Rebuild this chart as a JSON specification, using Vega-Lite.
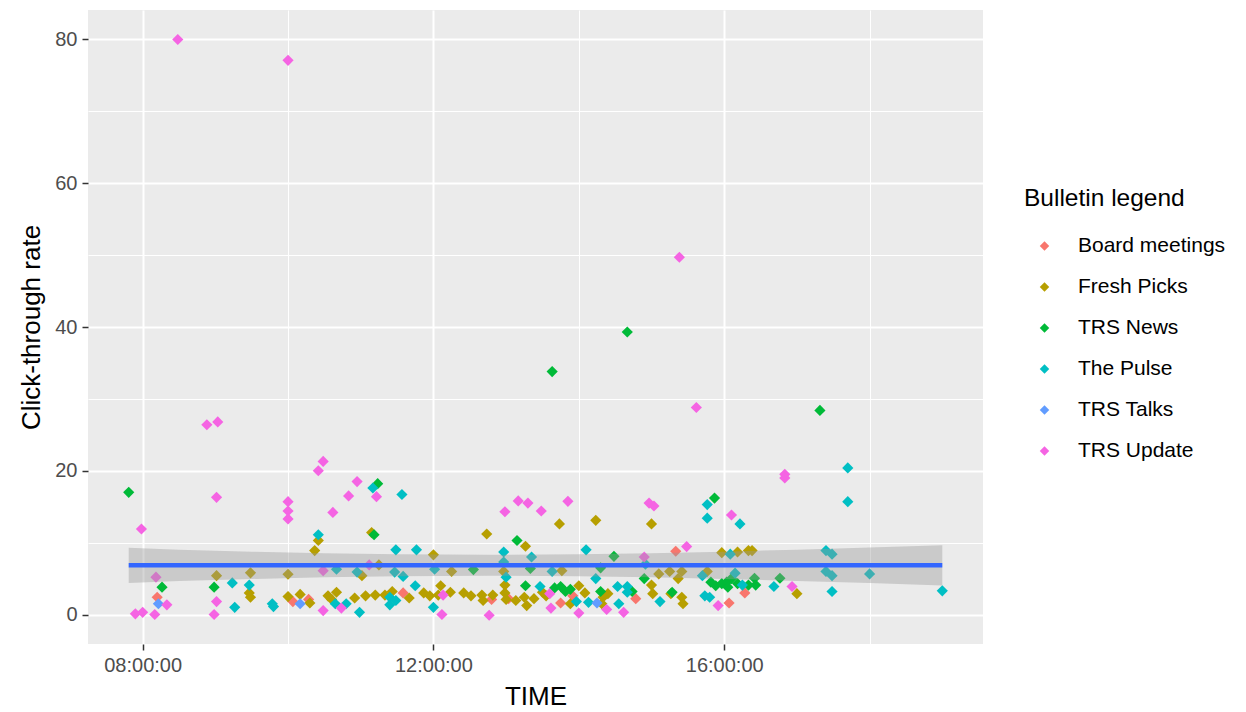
{
  "$schema": "https://vega.github.io/schema/vega-lite/v6.json",
  "width": 895,
  "height": 634,
  "autosize": {"type": "none"},
  "padding": {"left": 88, "top": 10, "right": 263, "bottom": 68},
  "background": "white",
  "config": {
    "view": {"fill": "#EBEBEB", "stroke": null},
    "font": "Liberation Sans",
    "axis": {
      "domain": false,
      "tickColor": "#333333",
      "tickSize": 6,
      "tickWidth": 1.5,
      "labelColor": "#4D4D4D",
      "labelFont": "Liberation Sans",
      "labelFontSize": 20,
      "titleFont": "Liberation Sans",
      "titleFontSize": 26,
      "titleFontWeight": "normal",
      "titleColor": "#000000",
      "gridColor": "#FFFFFF",
      "gridWidth": 2,
      "gridOpacity": 1
    },
    "legend": {
      "titleFont": "Liberation Sans",
      "titleFontSize": 24.5,
      "titleFontWeight": "normal",
      "titleColor": "#000000",
      "labelFont": "Liberation Sans",
      "labelFontSize": 21,
      "labelColor": "#000000"
    }
  },
  "datasets": {
    "pts": [
      {"TIME": "08:12:00", "CTR": 2.4, "Bulletin": "Board meetings"},
      {"TIME": "10:04:00", "CTR": 1.8, "Bulletin": "Board meetings"},
      {"TIME": "10:17:00", "CTR": 2.1, "Bulletin": "Board meetings"},
      {"TIME": "11:35:00", "CTR": 3.0, "Bulletin": "Board meetings"},
      {"TIME": "12:48:00", "CTR": 2.1, "Bulletin": "Board meetings"},
      {"TIME": "13:02:00", "CTR": 2.2, "Bulletin": "Board meetings"},
      {"TIME": "13:45:00", "CTR": 1.6, "Bulletin": "Board meetings"},
      {"TIME": "13:55:00", "CTR": 2.6, "Bulletin": "Board meetings"},
      {"TIME": "14:47:00", "CTR": 2.2, "Bulletin": "Board meetings"},
      {"TIME": "15:20:00", "CTR": 8.8, "Bulletin": "Board meetings"},
      {"TIME": "16:04:00", "CTR": 1.6, "Bulletin": "Board meetings"},
      {"TIME": "16:17:00", "CTR": 3.0, "Bulletin": "Board meetings"},

      {"TIME": "09:01:00", "CTR": 5.4, "Bulletin": "Fresh Picks"},
      {"TIME": "09:29:00", "CTR": 5.8, "Bulletin": "Fresh Picks"},
      {"TIME": "09:28:00", "CTR": 3.0, "Bulletin": "Fresh Picks"},
      {"TIME": "09:29:00", "CTR": 2.4, "Bulletin": "Fresh Picks"},
      {"TIME": "10:00:00", "CTR": 5.6, "Bulletin": "Fresh Picks"},
      {"TIME": "10:00:00", "CTR": 2.5, "Bulletin": "Fresh Picks"},
      {"TIME": "10:10:00", "CTR": 2.8, "Bulletin": "Fresh Picks"},
      {"TIME": "10:18:00", "CTR": 1.6, "Bulletin": "Fresh Picks"},
      {"TIME": "10:25:00", "CTR": 10.3, "Bulletin": "Fresh Picks"},
      {"TIME": "10:22:00", "CTR": 8.9, "Bulletin": "Fresh Picks"},
      {"TIME": "11:09:00", "CTR": 11.4, "Bulletin": "Fresh Picks"},
      {"TIME": "11:15:00", "CTR": 6.9, "Bulletin": "Fresh Picks"},
      {"TIME": "11:01:00", "CTR": 5.4, "Bulletin": "Fresh Picks"},
      {"TIME": "12:00:00", "CTR": 8.3, "Bulletin": "Fresh Picks"},
      {"TIME": "12:15:00", "CTR": 6.0, "Bulletin": "Fresh Picks"},
      {"TIME": "12:44:00", "CTR": 11.2, "Bulletin": "Fresh Picks"},
      {"TIME": "13:16:00", "CTR": 9.5, "Bulletin": "Fresh Picks"},
      {"TIME": "12:59:00", "CTR": 4.1, "Bulletin": "Fresh Picks"},
      {"TIME": "12:58:00", "CTR": 6.0, "Bulletin": "Fresh Picks"},
      {"TIME": "10:33:00", "CTR": 2.6, "Bulletin": "Fresh Picks"},
      {"TIME": "10:36:00", "CTR": 2.1, "Bulletin": "Fresh Picks"},
      {"TIME": "10:40:00", "CTR": 3.1, "Bulletin": "Fresh Picks"},
      {"TIME": "10:55:00", "CTR": 2.3, "Bulletin": "Fresh Picks"},
      {"TIME": "11:04:00", "CTR": 2.6, "Bulletin": "Fresh Picks"},
      {"TIME": "11:12:00", "CTR": 2.7, "Bulletin": "Fresh Picks"},
      {"TIME": "11:20:00", "CTR": 2.7, "Bulletin": "Fresh Picks"},
      {"TIME": "11:26:00", "CTR": 3.2, "Bulletin": "Fresh Picks"},
      {"TIME": "11:40:00", "CTR": 2.3, "Bulletin": "Fresh Picks"},
      {"TIME": "11:52:00", "CTR": 3.0, "Bulletin": "Fresh Picks"},
      {"TIME": "11:57:00", "CTR": 2.6, "Bulletin": "Fresh Picks"},
      {"TIME": "12:04:00", "CTR": 2.7, "Bulletin": "Fresh Picks"},
      {"TIME": "12:06:00", "CTR": 4.0, "Bulletin": "Fresh Picks"},
      {"TIME": "12:14:00", "CTR": 3.1, "Bulletin": "Fresh Picks"},
      {"TIME": "12:25:00", "CTR": 3.0, "Bulletin": "Fresh Picks"},
      {"TIME": "12:31:00", "CTR": 2.6, "Bulletin": "Fresh Picks"},
      {"TIME": "12:40:00", "CTR": 2.7, "Bulletin": "Fresh Picks"},
      {"TIME": "12:41:00", "CTR": 1.95, "Bulletin": "Fresh Picks"},
      {"TIME": "12:49:00", "CTR": 2.7, "Bulletin": "Fresh Picks"},
      {"TIME": "12:59:00", "CTR": 3.0, "Bulletin": "Fresh Picks"},
      {"TIME": "13:00:00", "CTR": 2.1, "Bulletin": "Fresh Picks"},
      {"TIME": "13:08:00", "CTR": 1.95, "Bulletin": "Fresh Picks"},
      {"TIME": "13:15:00", "CTR": 2.4, "Bulletin": "Fresh Picks"},
      {"TIME": "13:17:00", "CTR": 1.25, "Bulletin": "Fresh Picks"},
      {"TIME": "13:23:00", "CTR": 2.2, "Bulletin": "Fresh Picks"},
      {"TIME": "13:30:00", "CTR": 3.1, "Bulletin": "Fresh Picks"},
      {"TIME": "13:33:00", "CTR": 2.6, "Bulletin": "Fresh Picks"},
      {"TIME": "13:44:00", "CTR": 12.6, "Bulletin": "Fresh Picks"},
      {"TIME": "13:46:00", "CTR": 6.1, "Bulletin": "Fresh Picks"},
      {"TIME": "13:53:00", "CTR": 1.5, "Bulletin": "Fresh Picks"},
      {"TIME": "14:00:00", "CTR": 4.0, "Bulletin": "Fresh Picks"},
      {"TIME": "14:05:00", "CTR": 3.0, "Bulletin": "Fresh Picks"},
      {"TIME": "14:14:00", "CTR": 13.1, "Bulletin": "Fresh Picks"},
      {"TIME": "14:24:00", "CTR": 2.9, "Bulletin": "Fresh Picks"},
      {"TIME": "14:20:00", "CTR": 2.4, "Bulletin": "Fresh Picks"},
      {"TIME": "14:19:00", "CTR": 1.5, "Bulletin": "Fresh Picks"},
      {"TIME": "15:00:00", "CTR": 12.6, "Bulletin": "Fresh Picks"},
      {"TIME": "15:00:00", "CTR": 4.1, "Bulletin": "Fresh Picks"},
      {"TIME": "15:01:00", "CTR": 2.9, "Bulletin": "Fresh Picks"},
      {"TIME": "15:06:00", "CTR": 5.65, "Bulletin": "Fresh Picks"},
      {"TIME": "15:15:00", "CTR": 6.0, "Bulletin": "Fresh Picks"},
      {"TIME": "15:16:00", "CTR": 2.9, "Bulletin": "Fresh Picks"},
      {"TIME": "15:22:00", "CTR": 5.0, "Bulletin": "Fresh Picks"},
      {"TIME": "15:25:00", "CTR": 6.0, "Bulletin": "Fresh Picks"},
      {"TIME": "15:25:00", "CTR": 2.4, "Bulletin": "Fresh Picks"},
      {"TIME": "15:26:00", "CTR": 1.5, "Bulletin": "Fresh Picks"},
      {"TIME": "15:46:00", "CTR": 6.0, "Bulletin": "Fresh Picks"},
      {"TIME": "15:58:00", "CTR": 8.6, "Bulletin": "Fresh Picks"},
      {"TIME": "16:11:00", "CTR": 8.7, "Bulletin": "Fresh Picks"},
      {"TIME": "16:20:00", "CTR": 8.9, "Bulletin": "Fresh Picks"},
      {"TIME": "16:23:00", "CTR": 8.9, "Bulletin": "Fresh Picks"},
      {"TIME": "17:00:00", "CTR": 2.9, "Bulletin": "Fresh Picks"},

      {"TIME": "07:48:30", "CTR": 17.0, "Bulletin": "TRS News"},
      {"TIME": "08:16:00", "CTR": 3.8, "Bulletin": "TRS News"},
      {"TIME": "08:59:00", "CTR": 3.8, "Bulletin": "TRS News"},
      {"TIME": "11:14:00", "CTR": 18.2, "Bulletin": "TRS News"},
      {"TIME": "11:11:00", "CTR": 11.1, "Bulletin": "TRS News"},
      {"TIME": "12:33:00", "CTR": 6.25, "Bulletin": "TRS News"},
      {"TIME": "13:09:00", "CTR": 10.3, "Bulletin": "TRS News"},
      {"TIME": "13:16:00", "CTR": 4.0, "Bulletin": "TRS News"},
      {"TIME": "13:38:00", "CTR": 33.8, "Bulletin": "TRS News"},
      {"TIME": "13:20:00", "CTR": 6.4, "Bulletin": "TRS News"},
      {"TIME": "13:40:00", "CTR": 3.7, "Bulletin": "TRS News"},
      {"TIME": "13:45:00", "CTR": 3.9, "Bulletin": "TRS News"},
      {"TIME": "13:49:00", "CTR": 3.2, "Bulletin": "TRS News"},
      {"TIME": "13:53:00", "CTR": 3.5, "Bulletin": "TRS News"},
      {"TIME": "14:18:00", "CTR": 6.5, "Bulletin": "TRS News"},
      {"TIME": "14:18:00", "CTR": 3.2, "Bulletin": "TRS News"},
      {"TIME": "14:29:00", "CTR": 8.1, "Bulletin": "TRS News"},
      {"TIME": "14:40:00", "CTR": 39.3, "Bulletin": "TRS News"},
      {"TIME": "14:44:00", "CTR": 3.2, "Bulletin": "TRS News"},
      {"TIME": "14:54:00", "CTR": 5.0, "Bulletin": "TRS News"},
      {"TIME": "15:17:00", "CTR": 3.1, "Bulletin": "TRS News"},
      {"TIME": "15:52:00", "CTR": 16.2, "Bulletin": "TRS News"},
      {"TIME": "15:49:00", "CTR": 4.5, "Bulletin": "TRS News"},
      {"TIME": "15:53:00", "CTR": 4.0, "Bulletin": "TRS News"},
      {"TIME": "15:58:00", "CTR": 4.3, "Bulletin": "TRS News"},
      {"TIME": "16:02:00", "CTR": 4.5, "Bulletin": "TRS News"},
      {"TIME": "16:06:00", "CTR": 5.0, "Bulletin": "TRS News"},
      {"TIME": "16:03:00", "CTR": 3.8, "Bulletin": "TRS News"},
      {"TIME": "16:11:00", "CTR": 4.3, "Bulletin": "TRS News"},
      {"TIME": "16:20:00", "CTR": 4.1, "Bulletin": "TRS News"},
      {"TIME": "16:26:00", "CTR": 4.1, "Bulletin": "TRS News"},
      {"TIME": "16:25:00", "CTR": 5.05, "Bulletin": "TRS News"},
      {"TIME": "16:46:00", "CTR": 5.05, "Bulletin": "TRS News"},
      {"TIME": "17:19:00", "CTR": 28.4, "Bulletin": "TRS News"},

      {"TIME": "09:14:00", "CTR": 4.4, "Bulletin": "The Pulse"},
      {"TIME": "09:16:00", "CTR": 1.0, "Bulletin": "The Pulse"},
      {"TIME": "09:28:00", "CTR": 4.1, "Bulletin": "The Pulse"},
      {"TIME": "09:47:00", "CTR": 1.5, "Bulletin": "The Pulse"},
      {"TIME": "09:48:00", "CTR": 1.1, "Bulletin": "The Pulse"},
      {"TIME": "10:25:00", "CTR": 11.1, "Bulletin": "The Pulse"},
      {"TIME": "10:40:00", "CTR": 6.3, "Bulletin": "The Pulse"},
      {"TIME": "10:39:00", "CTR": 1.5, "Bulletin": "The Pulse"},
      {"TIME": "10:48:00", "CTR": 1.5, "Bulletin": "The Pulse"},
      {"TIME": "10:59:00", "CTR": 0.3, "Bulletin": "The Pulse"},
      {"TIME": "10:57:00", "CTR": 5.9, "Bulletin": "The Pulse"},
      {"TIME": "11:10:00", "CTR": 17.6, "Bulletin": "The Pulse"},
      {"TIME": "11:34:00", "CTR": 16.7, "Bulletin": "The Pulse"},
      {"TIME": "11:29:00", "CTR": 9.0, "Bulletin": "The Pulse"},
      {"TIME": "11:46:00", "CTR": 9.0, "Bulletin": "The Pulse"},
      {"TIME": "11:28:00", "CTR": 5.9, "Bulletin": "The Pulse"},
      {"TIME": "11:35:00", "CTR": 5.3, "Bulletin": "The Pulse"},
      {"TIME": "11:45:00", "CTR": 4.0, "Bulletin": "The Pulse"},
      {"TIME": "11:24:00", "CTR": 2.4, "Bulletin": "The Pulse"},
      {"TIME": "11:24:00", "CTR": 1.35, "Bulletin": "The Pulse"},
      {"TIME": "11:29:00", "CTR": 1.95, "Bulletin": "The Pulse"},
      {"TIME": "12:01:00", "CTR": 6.3, "Bulletin": "The Pulse"},
      {"TIME": "12:00:00", "CTR": 1.0, "Bulletin": "The Pulse"},
      {"TIME": "12:58:00", "CTR": 8.7, "Bulletin": "The Pulse"},
      {"TIME": "12:58:00", "CTR": 7.3, "Bulletin": "The Pulse"},
      {"TIME": "13:00:00", "CTR": 5.2, "Bulletin": "The Pulse"},
      {"TIME": "13:21:00", "CTR": 8.0, "Bulletin": "The Pulse"},
      {"TIME": "13:38:00", "CTR": 6.0, "Bulletin": "The Pulse"},
      {"TIME": "13:28:00", "CTR": 3.9, "Bulletin": "The Pulse"},
      {"TIME": "14:06:00", "CTR": 9.0, "Bulletin": "The Pulse"},
      {"TIME": "14:14:00", "CTR": 5.0, "Bulletin": "The Pulse"},
      {"TIME": "13:58:00", "CTR": 1.8, "Bulletin": "The Pulse"},
      {"TIME": "14:08:00", "CTR": 1.7, "Bulletin": "The Pulse"},
      {"TIME": "14:32:00", "CTR": 3.9, "Bulletin": "The Pulse"},
      {"TIME": "14:40:00", "CTR": 3.9, "Bulletin": "The Pulse"},
      {"TIME": "14:40:00", "CTR": 3.1, "Bulletin": "The Pulse"},
      {"TIME": "14:33:00", "CTR": 1.5, "Bulletin": "The Pulse"},
      {"TIME": "14:55:00", "CTR": 7.0, "Bulletin": "The Pulse"},
      {"TIME": "15:07:00", "CTR": 1.8, "Bulletin": "The Pulse"},
      {"TIME": "15:46:00", "CTR": 15.3, "Bulletin": "The Pulse"},
      {"TIME": "15:46:00", "CTR": 13.4, "Bulletin": "The Pulse"},
      {"TIME": "15:42:00", "CTR": 5.4, "Bulletin": "The Pulse"},
      {"TIME": "15:44:00", "CTR": 2.6, "Bulletin": "The Pulse"},
      {"TIME": "15:48:00", "CTR": 2.4, "Bulletin": "The Pulse"},
      {"TIME": "16:05:00", "CTR": 8.4, "Bulletin": "The Pulse"},
      {"TIME": "16:09:00", "CTR": 5.75, "Bulletin": "The Pulse"},
      {"TIME": "16:13:00", "CTR": 12.6, "Bulletin": "The Pulse"},
      {"TIME": "16:15:00", "CTR": 4.1, "Bulletin": "The Pulse"},
      {"TIME": "16:41:00", "CTR": 3.9, "Bulletin": "The Pulse"},
      {"TIME": "17:24:00", "CTR": 8.9, "Bulletin": "The Pulse"},
      {"TIME": "17:29:00", "CTR": 8.4, "Bulletin": "The Pulse"},
      {"TIME": "17:24:00", "CTR": 6.0, "Bulletin": "The Pulse"},
      {"TIME": "17:29:00", "CTR": 5.4, "Bulletin": "The Pulse"},
      {"TIME": "17:29:00", "CTR": 3.2, "Bulletin": "The Pulse"},
      {"TIME": "17:42:00", "CTR": 20.4, "Bulletin": "The Pulse"},
      {"TIME": "17:42:00", "CTR": 15.7, "Bulletin": "The Pulse"},
      {"TIME": "18:00:00", "CTR": 5.65, "Bulletin": "The Pulse"},
      {"TIME": "19:00:00", "CTR": 3.3, "Bulletin": "The Pulse"},

      {"TIME": "08:13:00", "CTR": 1.5, "Bulletin": "TRS Talks"},
      {"TIME": "10:10:00", "CTR": 1.5, "Bulletin": "TRS Talks"},
      {"TIME": "14:15:00", "CTR": 1.6, "Bulletin": "TRS Talks"},

      {"TIME": "08:29:00", "CTR": 80.0, "Bulletin": "TRS Update"},
      {"TIME": "10:00:00", "CTR": 77.1, "Bulletin": "TRS Update"},
      {"TIME": "08:53:00", "CTR": 26.4, "Bulletin": "TRS Update"},
      {"TIME": "09:02:00", "CTR": 26.8, "Bulletin": "TRS Update"},
      {"TIME": "10:29:00", "CTR": 21.3, "Bulletin": "TRS Update"},
      {"TIME": "10:25:00", "CTR": 20.0, "Bulletin": "TRS Update"},
      {"TIME": "09:01:00", "CTR": 16.3, "Bulletin": "TRS Update"},
      {"TIME": "10:00:00", "CTR": 15.7, "Bulletin": "TRS Update"},
      {"TIME": "10:00:00", "CTR": 14.4, "Bulletin": "TRS Update"},
      {"TIME": "10:00:00", "CTR": 13.3, "Bulletin": "TRS Update"},
      {"TIME": "07:59:00", "CTR": 11.9, "Bulletin": "TRS Update"},
      {"TIME": "08:11:00", "CTR": 5.2, "Bulletin": "TRS Update"},
      {"TIME": "08:20:00", "CTR": 1.35, "Bulletin": "TRS Update"},
      {"TIME": "07:54:00", "CTR": 0.1, "Bulletin": "TRS Update"},
      {"TIME": "08:00:00", "CTR": 0.3, "Bulletin": "TRS Update"},
      {"TIME": "08:10:00", "CTR": 0.0, "Bulletin": "TRS Update"},
      {"TIME": "09:01:00", "CTR": 1.8, "Bulletin": "TRS Update"},
      {"TIME": "08:59:00", "CTR": 0.0, "Bulletin": "TRS Update"},
      {"TIME": "10:57:00", "CTR": 18.5, "Bulletin": "TRS Update"},
      {"TIME": "10:50:00", "CTR": 16.5, "Bulletin": "TRS Update"},
      {"TIME": "11:13:00", "CTR": 16.4, "Bulletin": "TRS Update"},
      {"TIME": "10:37:00", "CTR": 14.2, "Bulletin": "TRS Update"},
      {"TIME": "10:29:00", "CTR": 6.1, "Bulletin": "TRS Update"},
      {"TIME": "11:07:00", "CTR": 6.9, "Bulletin": "TRS Update"},
      {"TIME": "10:29:00", "CTR": 0.55, "Bulletin": "TRS Update"},
      {"TIME": "10:44:00", "CTR": 0.9, "Bulletin": "TRS Update"},
      {"TIME": "12:07:00", "CTR": 0.0, "Bulletin": "TRS Update"},
      {"TIME": "12:46:00", "CTR": -0.1, "Bulletin": "TRS Update"},
      {"TIME": "12:59:00", "CTR": 14.3, "Bulletin": "TRS Update"},
      {"TIME": "13:10:00", "CTR": 15.8, "Bulletin": "TRS Update"},
      {"TIME": "13:18:00", "CTR": 15.5, "Bulletin": "TRS Update"},
      {"TIME": "13:29:00", "CTR": 14.4, "Bulletin": "TRS Update"},
      {"TIME": "13:51:00", "CTR": 15.75, "Bulletin": "TRS Update"},
      {"TIME": "14:58:00", "CTR": 15.5, "Bulletin": "TRS Update"},
      {"TIME": "15:02:00", "CTR": 15.1, "Bulletin": "TRS Update"},
      {"TIME": "16:06:00", "CTR": 13.85, "Bulletin": "TRS Update"},
      {"TIME": "14:54:00", "CTR": 8.0, "Bulletin": "TRS Update"},
      {"TIME": "15:29:00", "CTR": 9.45, "Bulletin": "TRS Update"},
      {"TIME": "15:23:00", "CTR": 49.7, "Bulletin": "TRS Update"},
      {"TIME": "15:37:00", "CTR": 28.8, "Bulletin": "TRS Update"},
      {"TIME": "16:50:00", "CTR": 19.5, "Bulletin": "TRS Update"},
      {"TIME": "16:50:00", "CTR": 19.0, "Bulletin": "TRS Update"},
      {"TIME": "13:36:00", "CTR": 2.9, "Bulletin": "TRS Update"},
      {"TIME": "13:37:00", "CTR": 0.9, "Bulletin": "TRS Update"},
      {"TIME": "14:00:00", "CTR": 0.2, "Bulletin": "TRS Update"},
      {"TIME": "14:23:00", "CTR": 0.7, "Bulletin": "TRS Update"},
      {"TIME": "14:37:00", "CTR": 0.3, "Bulletin": "TRS Update"},
      {"TIME": "15:55:00", "CTR": 1.25, "Bulletin": "TRS Update"},
      {"TIME": "16:56:00", "CTR": 3.9, "Bulletin": "TRS Update"},
      {"TIME": "12:08:00", "CTR": 2.7, "Bulletin": "TRS Update"}
    ]
  },
  "resolve": {"axis": {"x": "independent", "y": "independent"}},
  "layer": [
    {
      "data": {"name": "pts", "format": {"parse": {"TIME": "date:'%H:%M:%S'"}}},
      "mark": {"type": "point", "shape": "diamond", "filled": true, "size": 125, "opacity": 1},
      "encoding": {
        "x": {
          "field": "TIME", "type": "temporal", "title": "TIME",
          "scale": {"domain": [
            {"year": 1900, "month": 1, "date": 1, "hours": 7, "minutes": 14, "seconds": 54},
            {"year": 1900, "month": 1, "date": 1, "hours": 19, "minutes": 33, "seconds": 36}
          ], "nice": false},
          "axis": {
            "values": [
              {"year": 1900, "month": 1, "date": 1, "hours": 8},
              {"year": 1900, "month": 1, "date": 1, "hours": 12},
              {"year": 1900, "month": 1, "date": 1, "hours": 16}
            ],
            "format": "%H:%M:%S",
            "labelPadding": 5,
            "titlePadding": 8,
            "labelFlush": false
          }
        },
        "y": {
          "field": "CTR", "type": "quantitative", "title": "Click-through rate",
          "scale": {"domain": [-4.1, 84.1], "nice": false, "zero": false},
          "axis": {"values": [0, 20, 40, 60, 80], "labelPadding": 5, "titlePadding": 10}
        },
        "color": {
          "field": "Bulletin", "type": "nominal", "title": "Bulletin legend",
          "scale": {
            "domain": ["Board meetings", "Fresh Picks", "TRS News", "The Pulse", "TRS Talks", "TRS Update"],
            "range": ["#F8766D", "#B79F00", "#00BA38", "#00BFC4", "#619CFF", "#F564E3"]
          },
          "legend": {
            "orient": "none",
            "legendX": 936,
            "legendY": 177,
            "symbolType": "diamond",
            "symbolSize": 90,
            "symbolOffset": 10,
            "labelOffset": 23,
            "rowPadding": 19,
            "titlePadding": 24,
            "symbolStrokeWidth": 0
          }
        }
      }
    },
    {
      "data": {"values": [
        {"TIME": "1900-01-01T07:48:30", "lo": 4.4, "hi": 9.3},
        {"TIME": "1900-01-01T08:30:00", "lo": 4.68, "hi": 9.02},
        {"TIME": "1900-01-01T09:30:00", "lo": 4.95, "hi": 8.75},
        {"TIME": "1900-01-01T10:30:00", "lo": 5.17, "hi": 8.53},
        {"TIME": "1900-01-01T11:30:00", "lo": 5.32, "hi": 8.38},
        {"TIME": "1900-01-01T12:45:00", "lo": 5.4, "hi": 8.3},
        {"TIME": "1900-01-01T14:00:00", "lo": 5.32, "hi": 8.38},
        {"TIME": "1900-01-01T15:00:00", "lo": 5.17, "hi": 8.53},
        {"TIME": "1900-01-01T16:00:00", "lo": 4.95, "hi": 8.75},
        {"TIME": "1900-01-01T17:00:00", "lo": 4.68, "hi": 9.02},
        {"TIME": "1900-01-01T18:00:00", "lo": 4.38, "hi": 9.32},
        {"TIME": "1900-01-01T19:00:00", "lo": 4.05, "hi": 9.65}
      ]},
      "mark": {"type": "area", "fill": "#999999", "opacity": 0.4},
      "encoding": {
        "x": {
          "field": "TIME", "type": "temporal",
          "axis": {
            "orient": "top",
            "values": [
              {"year": 1900, "month": 1, "date": 1, "hours": 10},
              {"year": 1900, "month": 1, "date": 1, "hours": 14},
              {"year": 1900, "month": 1, "date": 1, "hours": 18}
            ],
            "labels": false, "ticks": false, "domain": false, "title": null,
            "grid": true, "gridWidth": 1
          }
        },
        "y": {
          "field": "lo", "type": "quantitative",
          "axis": {
            "orient": "right",
            "values": [10, 30, 50, 70],
            "labels": false, "ticks": false, "domain": false, "title": null,
            "grid": true, "gridWidth": 1
          }
        },
        "y2": {"field": "hi"}
      }
    },
    {
      "data": {"values": [
        {"TIME": "1900-01-01T07:48:30", "fit": 6.85},
        {"TIME": "1900-01-01T19:00:00", "fit": 6.85}
      ]},
      "mark": {"type": "line", "stroke": "#3366FF", "strokeWidth": 4.5},
      "encoding": {
        "x": {"field": "TIME", "type": "temporal", "axis": null},
        "y": {"field": "fit", "type": "quantitative", "axis": null}
      }
    }
  ]
}
